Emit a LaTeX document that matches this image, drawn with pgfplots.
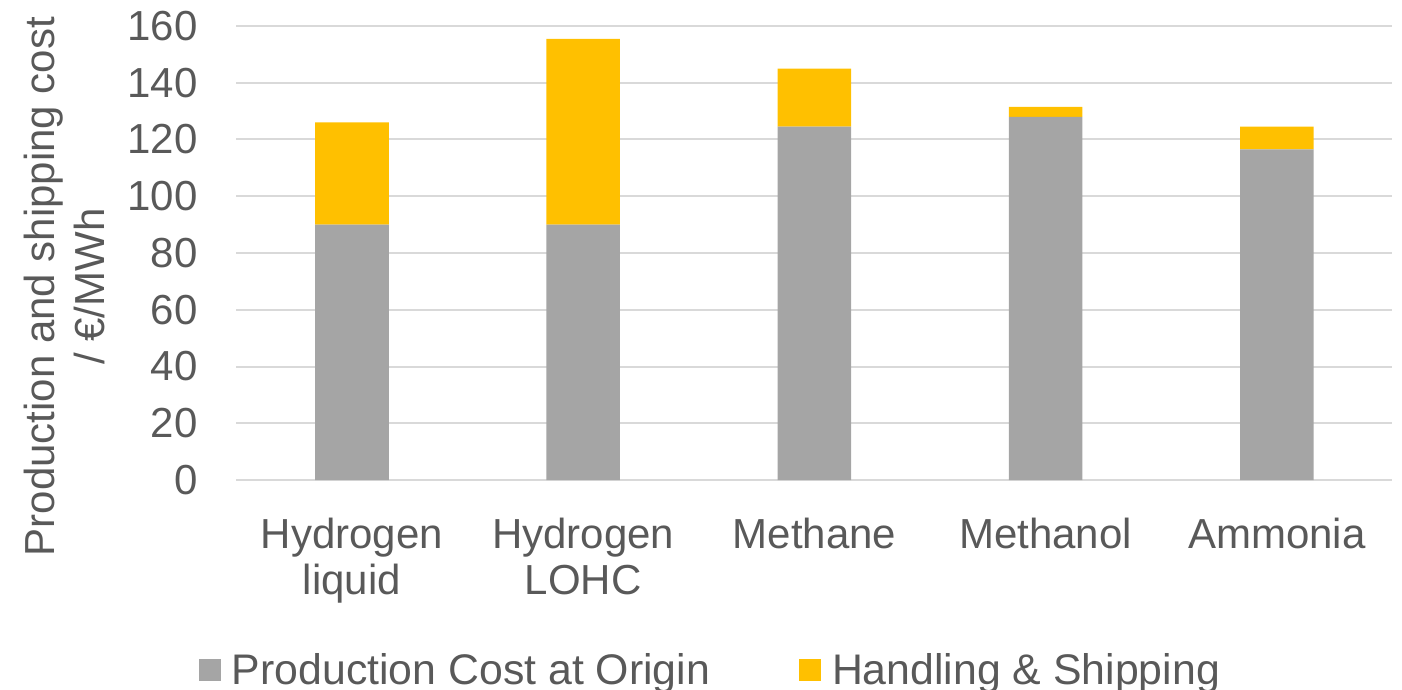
\documentclass[border=0pt]{standalone}
\usepackage{fontspec}
\setmainfont{Liberation Sans}
\usepackage{pgfplots}
\pgfplotsset{compat=1.18}

\definecolor{prodgray}{HTML}{A5A5A5}
\definecolor{shipgold}{HTML}{FFC000}
\definecolor{labelgray}{HTML}{595959}
\definecolor{gridgray}{HTML}{D9D9D9}

\pgfplotsset{
  squarelegend/.style={
    legend image code/.code={\fill[##1] (0pt,-5.5pt) rectangle (11pt,5.5pt);}
  }
}

\begin{document}
\begin{tikzpicture}
\useasboundingbox (-118.2pt,-105pt) rectangle (582.8pt,240pt);
\begin{axis}[
  at={(0pt,0pt)}, anchor=south west,
  scale only axis, width=578pt, height=227pt,
  ybar stacked, bar width=0.318,
  xmin=-0.5, xmax=4.5, ymin=0, ymax=160,
  xtick={0,...,4},
  xticklabels={{Hydrogen\\liquid},{Hydrogen\\LOHC},Methane,Methanol,Ammonia},
  ytick={0,20,...,160},
  major tick length=0pt,
  axis line style={draw=none},
  ymajorgrids, grid style={gridgray, line width=1pt},
  tick label style={font=\fontsize{21}{23}\selectfont, text=labelgray, inner sep=0pt},
  /pgf/number format/assume math mode=true,
  yticklabel style={anchor=east, xshift=-19.2pt},
  xticklabel style={anchor=north, align=center, yshift=-19pt},
  ylabel={Production and shipping cost\\/ €/MWh},
  ylabel style={at={(axis description cs:-0.1491,0.426)}, anchor=center, inner sep=0pt,
    align=center, font=\fontsize{21}{25}\selectfont, text=labelgray},
  legend columns=2,
  legend style={at={(axis description cs:0.4092,-0.4185)}, anchor=center,
    draw=none, fill=none, inner sep=0pt,
    font=\fontsize{21.4}{23}\selectfont, text=labelgray,
    nodes={inner sep=0pt},
    /tikz/every odd column/.append style={column sep=5.5pt},
    /tikz/every even column/.append style={column sep=44.5pt}},
]
\addplot[fill=prodgray, draw=none, squarelegend]
  coordinates {(0,90) (1,90) (2,124.5) (3,128) (4,116.5)};
\addplot[fill=shipgold, draw=none, squarelegend]
  coordinates {(0,36) (1,65.5) (2,20.5) (3,3.5) (4,8)};
\legend{Production Cost at Origin, Handling \& Shipping}
\end{axis}
\end{tikzpicture}
\end{document}
